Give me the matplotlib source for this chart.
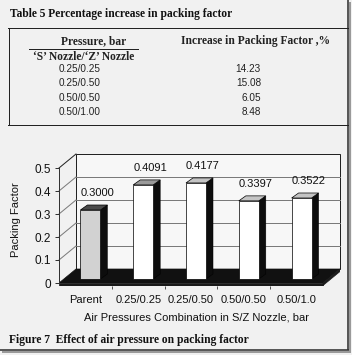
import matplotlib
matplotlib.use('Agg')
import matplotlib.pyplot as plt
from matplotlib.patches import Polygon, Rectangle

# ---------------- data ----------------
table_title = "Table 5 Percentage increase in packing factor"
table_head_left_1 = "Pressure, bar"
table_head_left_2 = "\u2018S\u2019 Nozzle/\u2018Z\u2019 Nozzle"
table_head_right = "Increase in Packing Factor ,%"
table_pressures = ["0.25/0.25", "0.25/0.50", "0.50/0.50", "0.50/1.00"]
table_increase = ["14.23", "15.08", "6.05", "8.48"]

categories = ["Parent", "0.25/0.25", "0.25/0.50", "0.50/0.50", "0.50/1.0"]
packing_factor = [0.3000, 0.4091, 0.4177, 0.3397, 0.3522]
value_labels = ["0.3000", "0.4091", "0.4177", "0.3397", "0.3522"]
y_ticks = [0, 0.1, 0.2, 0.3, 0.4, 0.5]
y_tick_labels = ["0", "0.1", "0.2", "0.3", "0.4", "0.5"]
x_title = "Air Pressures Combination in S/Z Nozzle, bar"
y_title = "Packing Factor"
caption = "Figure 7  Effect of air pressure on packing factor"

# ---------------- figure ----------------
W, H = 352, 355
PX = 0.72  # points per pixel
BG = '#f1f1f1'
fig = plt.figure(figsize=(W / 100, H / 100), dpi=100)
fig.patch.set_facecolor(BG)

bg = fig.add_axes([0, 0, 1, 1])
bg.set_xlim(0, W)
bg.set_ylim(H, 0)
bg.axis('off')

SERIF = ['Liberation Serif', 'DejaVu Serif']
SANS = ['Liberation Sans', 'DejaVu Sans']

# outer frame with shadow (right and bottom)
bg.plot([349.5, 349.5], [2, 353], color='#9a9a9a', lw=2 * PX, solid_capstyle='butt')
bg.plot([2, 351], [351.5, 351.5], color='#9a9a9a', lw=2 * PX, solid_capstyle='butt')
bg.plot([347.8, 347.8], [0, 350], color='#333333', lw=1.6 * PX, solid_capstyle='butt')
bg.plot([0, 348.5], [349.8, 349.8], color='#333333', lw=1.6 * PX, solid_capstyle='butt')

# table
bg.text(10, 14, table_title, fontfamily=SERIF, fontweight='bold', fontsize=8.3,
        ha='left', va='center', color='#111111')
bg.plot([8, 348], [28, 28], color='#222222', lw=1 * PX)
bg.plot([8.5, 8.5], [28, 125], color='#222222', lw=1 * PX)
bg.plot([8, 348], [124.5, 124.5], color='#222222', lw=1 * PX)

bg.text(94, 41, table_head_left_1, fontfamily=SERIF, fontweight='bold', fontsize=8.3,
        ha='center', va='center', color='#222222')
bg.plot([29, 138], [48.5, 48.5], color='#222222', lw=1 * PX)
bg.text(84, 56.5, table_head_left_2, fontfamily=SERIF, fontweight='bold', fontsize=8.3,
        ha='center', va='center', color='#222222')
bg.text(256, 41, table_head_right, fontfamily=SERIF, fontweight='bold', fontsize=8.3,
        ha='center', va='center', color='#222222')

row_y0, row_dy = 69, 14.4
for i, (p, inc) in enumerate(zip(table_pressures, table_increase)):
    y = row_y0 + i * row_dy
    bg.text(80, y, p, fontfamily=SANS, fontsize=7.2, ha='center', va='center', color='#222222')
    bg.text(261, y, inc, fontfamily=SANS, fontsize=7.2, ha='right', va='center', color='#222222')

bg.text(9, 340, caption, fontfamily=SERIF, fontweight='bold', fontsize=8.3,
        ha='left', va='center', color='#111111')

# ---------------- pseudo-3D bar chart ----------------
n = len(categories)
ymax = y_ticks[-1]
# front plane in pixels: x 59..323, value 0 at y=283, value 0.5 at y=168
fx0, fx1, fyb, fyt = 59, 323, 283, 168
dpx, dpy = 17, 14                      # wall depth in pixels
sx = (fx1 - fx0) / n                   # px per category
sy = (fyb - fyt) / (ymax - y_ticks[0])  # px per unit value
DX, DY = dpx / sx, dpy / sy
BW = 20 / sx                 # bar width
FX, FY = 5 / sx, 4 / sy      # bar front offset into depth
BX, BY = 7 / sx, 5 / sy      # bar depth
T = 2.5 / sy                 # floor thickness
xl, xr = -0.5, n - 0.5

# chart frame (walls) drawn in the page layer, from the same geometry
wall_l, wall_r = fx0 + dpx, fx1 + dpx
bg.add_patch(Rectangle((wall_l, fyt - dpy), wall_r - wall_l, fyb - fyt,
                       fc='#f7f7f7', ec='#222222', lw=1 * PX, zorder=1))
for v in y_ticks[1:-1]:
    yy = fyb - dpy - v * sy
    bg.plot([wall_l, wall_r], [yy, yy], color='#7a7a7a', lw=1 * PX, zorder=1.1)
for v in y_ticks[1:]:
    yf = fyb - v * sy
    bg.plot([fx0, fx0 + dpx], [yf, yf - dpy], color='#7a7a7a' if v < ymax else '#222222',
            lw=1 * PX, zorder=1.1)

# axes box covering the whole pseudo-3D block
ax_l, ax_r = fx0, fx1 + dpx
ax_b, ax_t = fyb + 2.5, fyt - dpy
cax = fig.add_axes([ax_l / W, 1 - ax_b / H, (ax_r - ax_l) / W, (ax_b - ax_t) / H])
cax.patch.set_visible(False)
cax.set_xlim(xl, xr + DX)
cax.set_ylim(-T, ymax + DY)

# floor
cax.add_patch(Polygon([(xl, 0), (xr, 0), (xr + DX, DY), (xl + DX, DY)], closed=True,
                      fc='#111111', ec='#111111', lw=0.5, zorder=1.2))
cax.add_patch(Polygon([(xl, 0), (xr, 0), (xr, -T), (xl, -T)], closed=True,
                      fc='#1a1a1a', ec='#1a1a1a', lw=0.5, zorder=1.2))
cax.add_patch(Polygon([(xr, 0), (xr + DX, DY), (xr + DX, DY - T), (xr, -T)], closed=True,
                      fc='#1a1a1a', ec='#1a1a1a', lw=0.5, zorder=1.2))

front_colors = ['#d2d2d2', 'white', 'white', 'white', 'white']
top_colors = ['#4a4a4a', '#9a9a9a', '#c4c4c4', '#c4c4c4', '#c4c4c4']
for i, (v, lab) in enumerate(zip(packing_factor, value_labels)):
    a = i - BW / 2 + FX
    b = i + BW / 2 + FX
    z = 2 + i * 0.01
    cax.add_patch(Polygon([(b, FY), (b + BX, FY + BY), (b + BX, v + FY + BY), (b, v + FY)],
                          closed=True, fc='#0d0d0d', ec='#000000', lw=0.5 * PX, zorder=z))
    cax.add_patch(Polygon([(a, v + FY), (b, v + FY), (b + BX, v + FY + BY), (a + BX, v + FY + BY)],
                          closed=True, fc=top_colors[i], ec='#000000', lw=0.7 * PX, zorder=z))
    cax.add_patch(Rectangle((a, FY), b - a, v, fc=front_colors[i], ec='#000000',
                            lw=0.7 * PX, zorder=z))
    cax.text(i + FX + BX, v + FY + BY + 12 / sy, lab, fontfamily=SANS, fontsize=8,
             ha='center', va='center', color='#111111', zorder=5)

for name in ['top', 'right', 'bottom']:
    cax.spines[name].set_visible(False)
cax.spines['left'].set_position(('data', xl))
cax.spines['left'].set_bounds(y_ticks[0], ymax)
cax.spines['left'].set_color('#333333')
cax.spines['left'].set_linewidth(1 * PX)
cax.set_yticks(y_ticks)
cax.set_yticklabels(y_tick_labels, fontfamily=SANS, fontsize=8.5, color='#111111')
cax.tick_params(axis='y', length=3, width=1 * PX, pad=3, color='#333333')

cax.set_xticks(range(n))
cax.set_xticklabels(categories, fontfamily=SANS, fontsize=8, color='#111111')
cax.set_xticks([k + 0.5 for k in range(n - 1)], minor=True)
cax.tick_params(axis='x', which='major', length=0, pad=6.5)
cax.tick_params(axis='x', which='minor', length=2, width=1 * PX, color='#555555')

fig.text(197 / W, 1 - 317 / H, x_title, fontfamily=SANS, fontsize=8,
         ha='center', va='center', color='#111111')
fig.text(16 / W, 1 - 220 / H, y_title, fontfamily=SANS, fontsize=8, rotation=90,
         ha='center', va='center', color='#111111')

fig.savefig('out.png', dpi=100, facecolor=BG)
